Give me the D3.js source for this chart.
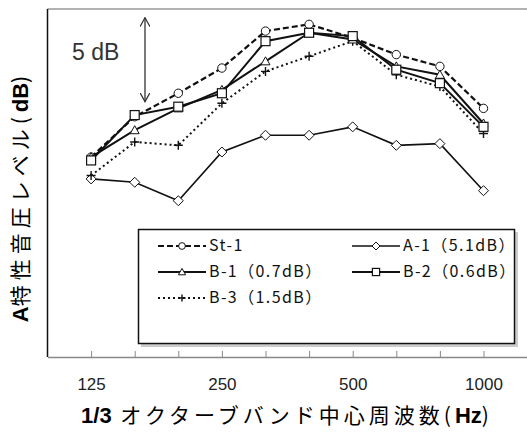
<!DOCTYPE html>
<html lang="ja">
<head>
  <meta charset="UTF-8">
  <title>A特性音圧レベル</title>
  <script src="https://cdn.jsdelivr.net/npm/d3@7"></script>
  <style>
    body { margin: 0; background: #fff; }
    svg { display: block; }
    .jp { font-family: "Noto Sans CJK JP", sans-serif; }
    .num { font-family: "Liberation Sans", Arial, sans-serif; }
  </style>
</head>
<body>
  <div id="chart"></div>
  <script>
    // 1/3 octave band centre frequencies (Hz)
    const bands = ["125", "160", "200", "250", "315", "400", "500", "630", "800", "1000"];
    const labelledBands = ["125", "250", "500", "1000"];

    // A-weighted SPL (dB), relative values
    const st1 = [71.9, 74.3, 75.7, 77.2, 79.4, 79.8, 79.0, 78.0, 77.3, 74.8];
    const a1  = [70.6, 70.4, 69.3, 72.2, 73.2, 73.2, 73.7, 72.6, 72.7, 69.9];
    const b1  = [71.9, 73.5, 74.8, 75.9, 77.6, 79.3, 78.9, 77.3, 76.8, 73.9];
    const b2  = [71.7, 74.4, 74.9, 75.7, 78.8, 79.3, 79.1, 77.1, 76.3, 73.7];
    const b3  = [70.8, 72.8, 72.6, 75.1, 77.0, 77.9, 78.8, 76.8, 76.1, 73.3];

    const seriesNames = ["St-1", "A-1（5.1dB）", "B-1（0.7dB）", "B-2（0.6dB）", "B-3（1.5dB）"];

    const W = 527, H = 433;
    const plotL = 47.5, plotR = 528, plotT = 9, plotB = 357;

    const svg = d3.select("#chart").append("svg")
      .attr("width", W).attr("height", H);

    // category index -1 .. 10 spans the plot area
    const x = d3.scaleLinear().domain([-1, 10]).range([plotL, plotL + 11 * 43.6]);
    const y = d3.scaleLinear().domain([60, 60 + (plotB - plotT) / 16.8]).range([plotB, plotT]);

    // frame
    svg.append("line").attr("x1", plotL).attr("x2", plotR).attr("y1", plotT).attr("y2", plotT)
      .attr("stroke", "#666").attr("stroke-width", 1.2);
    svg.append("line").attr("x1", plotL).attr("x2", plotL).attr("y1", plotT).attr("y2", plotB)
      .attr("stroke", "#111").attr("stroke-width", 1.5);

    // x axis
    const xAxis = d3.axisBottom(x)
      .tickValues(d3.range(0, 11))
      .tickSizeInner(-6).tickSizeOuter(0).tickPadding(21)
      .tickFormat(i => labelledBands.includes(bands[i]) ? bands[i] : "");
    const gx = svg.append("g")
      .attr("transform", `translate(0,${plotB})`)
      .call(xAxis);
    gx.select(".domain").attr("stroke", "#888").attr("stroke-width", 1.5);
    gx.selectAll(".tick line").attr("stroke", "#888");
    gx.selectAll(".tick text")
      .attr("class", "num").attr("font-size", 17).attr("fill", "#222");

    // axis titles
    const xt = svg.append("text").attr("class", "jp")
      .attr("x", 285).attr("y", 423).attr("text-anchor", "middle")
      .attr("font-size", 21).attr("fill", "#000");
    xt.append("tspan").attr("class", "num").attr("font-weight", "bold").attr("font-size", 22).text("1/3");
    xt.append("tspan").attr("letter-spacing", 4).text("\u00a0オクターブバンド中心周波数(");
    xt.append("tspan").attr("class", "num").attr("font-weight", "bold").attr("font-size", 22).text("Hz");
    xt.append("tspan").text(")");

    const yt = svg.append("text").attr("class", "jp")
      .attr("transform", "translate(28,199) rotate(-90)")
      .attr("text-anchor", "middle")
      .attr("font-size", 21).attr("fill", "#000");
    yt.append("tspan").attr("class", "num").attr("font-weight", "bold").attr("font-size", 22).text("A");
    yt.append("tspan").attr("letter-spacing", 5).text("特性音圧レベル(");
    yt.append("tspan").attr("class", "num").attr("font-weight", "bold").attr("font-size", 22).text("dB");
    yt.append("tspan").text(")");

    // 5 dB scale arrow
    const arrowTop = 80.2, arrowX = 145;
    svg.append("defs").append("marker")
      .attr("id", "head").attr("viewBox", "0 0 10 10")
      .attr("refX", 9).attr("refY", 5)
      .attr("markerWidth", 10).attr("markerHeight", 10)
      .attr("markerUnits", "userSpaceOnUse")
      .attr("orient", "auto-start-reverse")
      .append("path").attr("d", "M0,0 L9,5 L0,10")
      .attr("fill", "none").attr("stroke", "#333").attr("stroke-width", 1.2);
    svg.append("line")
      .attr("x1", arrowX).attr("x2", arrowX)
      .attr("y1", y(arrowTop)).attr("y2", y(arrowTop - 5))
      .attr("stroke", "#333").attr("stroke-width", 1.3)
      .attr("marker-start", "url(#head)").attr("marker-end", "url(#head)");
    svg.append("text").attr("class", "num")
      .attr("x", 72).attr("y", 60).attr("font-size", 23).attr("fill", "#333")
      .text("5 dB");

    // markers
    function marker(g, type, cx, cy, k = 1) {
      if (type === "circle") {
        g.append("circle").attr("cx", cx).attr("cy", cy).attr("r", 4.2 * k)
          .attr("fill", "#fff").attr("stroke", "#111").attr("stroke-width", 1);
      } else if (type === "square") {
        const h = 4.5 * k;
        g.append("rect").attr("x", cx - h).attr("y", cy - h).attr("width", 2 * h).attr("height", 2 * h)
          .attr("fill", "#fff").attr("stroke", "#111").attr("stroke-width", 1.2);
      } else if (type === "diamond") {
        const h = 5 * k;
        g.append("path").attr("d", `M${cx},${cy - h}L${cx + h},${cy}L${cx},${cy + h}L${cx - h},${cy}Z`)
          .attr("fill", "#fff").attr("stroke", "#111").attr("stroke-width", 1);
      } else if (type === "triangle") {
        const h = 4.5 * k;
        g.append("path").attr("d", `M${cx},${cy - h}L${cx + h},${cy + h * 0.78}L${cx - h},${cy + h * 0.78}Z`)
          .attr("fill", "#fff").attr("stroke", "#111").attr("stroke-width", 1);
      } else if (type === "plus") {
        const h = 4.5 * k;
        g.append("path").attr("d", `M${cx - h},${cy}H${cx + h}M${cx},${cy - h}V${cy + h}`)
          .attr("stroke", "#111").attr("stroke-width", 1.4);
      }
    }

    const styles = [
      { values: st1, type: "circle",   dash: "6,3", width: 2.2 },
      { values: a1,  type: "diamond",  dash: null,  width: 1.6 },
      { values: b3,  type: "plus",     dash: "2,3", width: 2 },
      { values: b1,  type: "triangle", dash: null,  width: 2 },
      { values: b2,  type: "square",   dash: null,  width: 2 }
    ];

    const line = d3.line().x((d, i) => x(i)).y(d => y(d));
    styles.forEach(s => {
      const g = svg.append("g");
      g.append("path").datum(s.values).attr("d", line)
        .attr("fill", "none").attr("stroke", "#111")
        .attr("stroke-width", s.width)
        .attr("stroke-dasharray", s.dash);
      s.values.forEach((v, i) => marker(g, s.type, x(i), y(v)));
    });

    // legend
    const lg = svg.append("g");
    lg.append("rect").attr("x", 141).attr("y", 232).attr("width", 377).attr("height", 115)
      .attr("fill", "#aaa").attr("opacity", 0.6);
    lg.append("rect").attr("x", 138.5).attr("y", 229.5).attr("width", 376).attr("height", 114)
      .attr("fill", "#fff").attr("stroke", "#111").attr("stroke-width", 1.5);

    const legendItems = [
      { name: seriesNames[0], s: styles[0], col: 0, row: 0 },
      { name: seriesNames[1], s: styles[1], col: 1, row: 0 },
      { name: seriesNames[2], s: styles[3], col: 0, row: 1 },
      { name: seriesNames[3], s: styles[4], col: 1, row: 1 },
      { name: seriesNames[4], s: styles[2], col: 0, row: 2 }
    ];
    const colX = [158, 352], rowY = [246, 272, 298];
    legendItems.forEach(it => {
      const x0 = colX[it.col], yy = rowY[it.row];
      lg.append("line").attr("x1", x0).attr("x2", x0 + 48).attr("y1", yy).attr("y2", yy)
        .attr("stroke", "#111").attr("stroke-width", it.s.width)
        .attr("stroke-dasharray", it.s.dash);
      marker(lg, it.s.type, x0 + 24, yy, 0.8);
      lg.append("text").attr("class", "jp")
        .attr("x", x0 + 51).attr("y", yy + 5)
        .attr("font-size", 16).attr("letter-spacing", 1.4).attr("fill", "#111")
        .text(it.name);
    });
  </script>
</body>
</html>
